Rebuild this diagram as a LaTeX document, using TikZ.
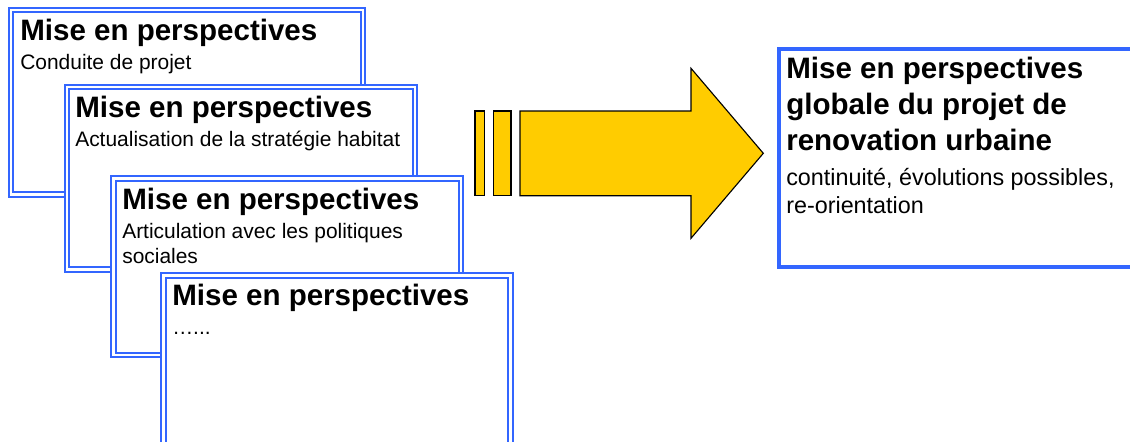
\documentclass[tikz,border=0pt]{standalone}
\usepackage{fontspec}
\setmainfont{Liberation Sans}
\definecolor{bleu}{RGB}{51,102,255}
\definecolor{jaune}{RGB}{255,204,0}
\begin{document}
\begin{tikzpicture}[x=0.025cm,y=-0.025cm,
  cadre/.style={draw=bleu,double=white,line width=1.35pt,double distance=1.6pt,fill=white},
  cadreglobal/.style={draw=bleu,line width=2.8pt,fill=white},
  fleche/.style={draw=black,fill=jaune,line width=0.8pt,line join=miter},
  titre/.style={anchor=base west,inner sep=0pt,font=\fontsize{21}{25}\selectfont\bfseries},
  sous/.style={anchor=base west,inner sep=0pt,font=\fontsize{14.9}{18}\selectfont},
  sousglobal/.style={anchor=base west,inner sep=0pt,font=\fontsize{16.6}{20}\selectfont}]
\useasboundingbox (0,0) rectangle (1130,441);

% cadres empiles
\draw[cadre] (11,10) rectangle (363,194.5);
\node[titre] (t1) at (20,40) {Mise en perspectives};
\node[sous] (s1) at (20,69) {Conduite de projet};

\draw[cadre] (66.7,87) rectangle (414.7,269.5);
\node[titre] (t2) at (75,117) {Mise en perspectives};
\node[sous] (s2) at (75,146) {Actualisation de la stratégie habitat};

\draw[cadre] (113.5,178.5) rectangle (461,355);
\node[titre] (t3) at (122,209) {Mise en perspectives};
\node[sous] (s3) at (122,238) {Articulation avec les politiques};
\node[sous] (s3b) at (122,263) {sociales};

\draw[cadre] (163.5,275.5) rectangle (510.5,470);
\node[titre] (t4) at (172,305.5) {Mise en perspectives};
\node[sous] (s4) at (172,334) {…...};

% fleche
\draw[fleche] (475,111) rectangle (484.3,195.7);
\draw[fleche] (493.3,111) rectangle (511,195.7);
\draw[fleche] (520,111) -- (691,111) -- (691,68.3) -- (763.3,153.3)
  -- (691,238.3) -- (691,195.7) -- (520,195.7) -- cycle;

% cadre final
\draw[cadreglobal] (778.7,48.7) rectangle (1145,267.3);
\node[titre] (g1) at (786,78.5) {Mise en perspectives};
\node[titre] (g2) at (786,114.5) {globale du projet de};
\node[titre] (g3) at (786,150) {renovation urbaine};
\node[sousglobal] (h1) at (786,185) {continuité, évolutions possibles,};
\node[sousglobal] (h2) at (786,213) {re-orientation};
\end{tikzpicture}
\end{document}
